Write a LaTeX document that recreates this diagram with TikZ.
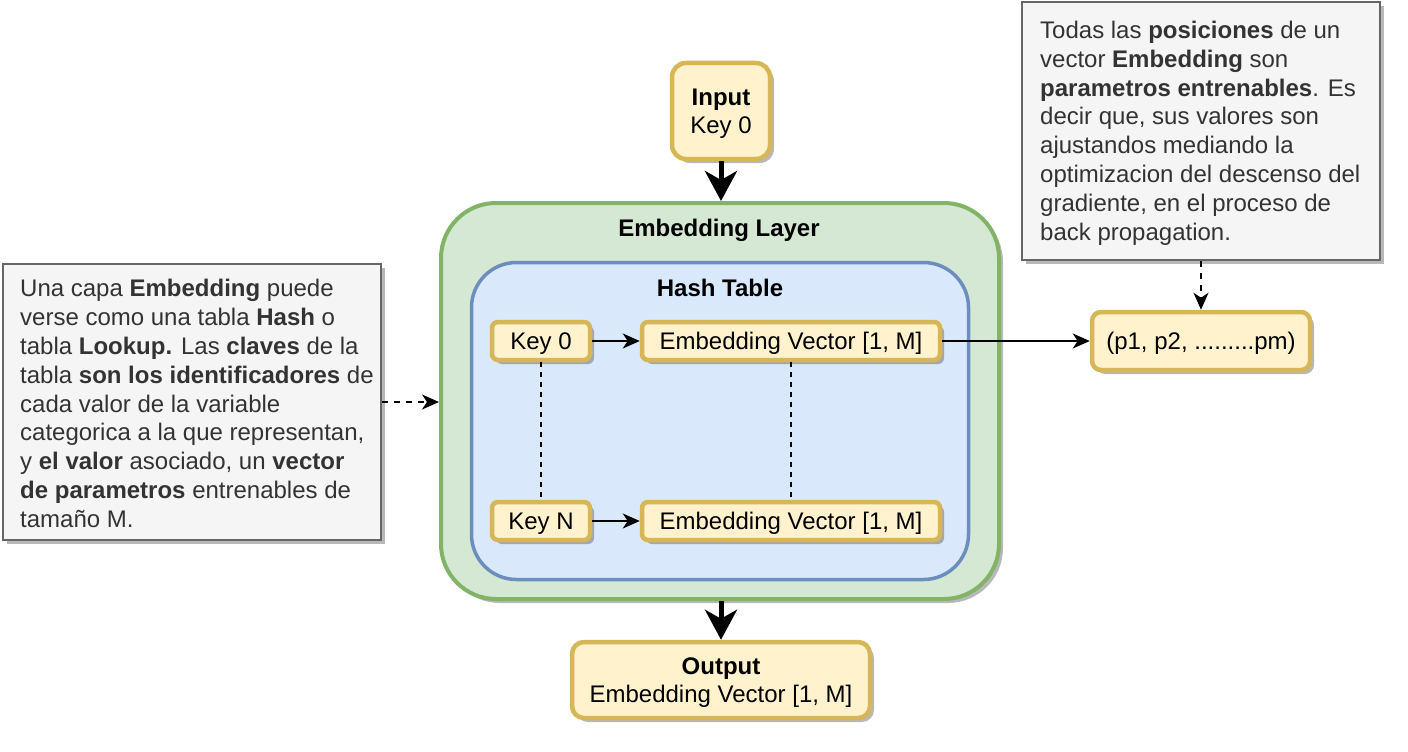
\documentclass[tikz,border=0pt]{standalone}
\usepackage{fontspec}
\setmainfont{Liberation Sans}
\usetikzlibrary{arrows.meta,shadows}
\definecolor{yfill}{HTML}{FFF2CC}
\definecolor{ystroke}{HTML}{D6B656}
\definecolor{gfill}{HTML}{D5E8D4}
\definecolor{gstroke}{HTML}{82B366}
\definecolor{bfill}{HTML}{DAE8FC}
\definecolor{bstroke}{HTML}{6C8EBF}
\definecolor{nfill}{HTML}{F5F5F5}
\definecolor{nstroke}{HTML}{666666}
\definecolor{ntext}{HTML}{333333}
\newcommand{\fsz}{\fontsize{24}{28.8}\selectfont}
\newcommand{\tstrut}{\rule{0pt}{21.9pt}}
\tikzset{
  shade/.style={drop shadow={shadow xshift=4pt,shadow yshift=-4pt,fill=black,opacity=0.28}},
  box/.style={draw, inner sep=0pt, align=center, font=\fsz},
  ybox/.style={box, fill=yfill, draw=ystroke, line width=4.5pt, shade},
  oneline/.style={text height=21.9pt},
  notebox/.style={box, fill=nfill, draw=nstroke, line width=2pt, shade},
  notetext/.style={inner sep=0pt, align=left, font=\fsz, text=ntext, anchor=west},
  bigarrow/.style={line width=5pt, -{Stealth[length=30pt,width=32pt,inset=9pt]}},
  thinarrow/.style={line width=2pt, -{Stealth[length=17pt,width=15pt,inset=5pt]}},
  dasharrow/.style={line width=2pt, dash pattern=on 6pt off 6pt, -{Stealth[length=17pt,width=15pt,inset=5pt]}},
  dashline/.style={line width=1.5pt, dash pattern=on 5pt off 5pt},
}
\begin{document}
\begin{tikzpicture}[x=1pt,y=-1pt]
\useasboundingbox (0,0) rectangle (1408,752);

% containers
\node[box, fill=gfill, draw=gstroke, line width=4pt, rounded corners=55pt, shade,
      minimum width=558pt, minimum height=396pt] (el) at (720,401) {};
\node[box, draw=none, font=\fsz\bfseries] (elt) at (719,230) {Embedding Layer};
\node[box, fill=bfill, draw=bstroke, line width=3.5pt, rounded corners=45pt,
      minimum width=497pt, minimum height=317pt] (ht) at (720,421) {};
\node[box, draw=none, font=\fsz\bfseries] (htt) at (720,288) {Hash Table};

% yellow nodes
\node[ybox, rounded corners=14pt, minimum width=98pt, minimum height=96pt] (input) at (721,111) {\tstrut\textbf{Input}\\Key 0};
\node[ybox, oneline, rounded corners=6pt, minimum width=98pt, minimum height=38pt] (key0) at (541,341) {Key 0};
\node[ybox, oneline, rounded corners=6pt, minimum width=298pt, minimum height=38pt] (ev1) at (791,341) {Embedding Vector [1, M]};
\node[ybox, oneline, rounded corners=6pt, minimum width=98pt, minimum height=38pt] (keyn) at (541,521) {Key N};
\node[ybox, oneline, rounded corners=6pt, minimum width=298pt, minimum height=38pt] (ev2) at (791,521) {Embedding Vector [1, M]};
\node[ybox, oneline, rounded corners=9pt, minimum width=218pt, minimum height=58pt] (pn) at (1201,341) {(p1, p2, .........pm)};
\node[ybox, rounded corners=12pt, minimum width=298pt, minimum height=76pt] (output) at (721,680) {\tstrut\textbf{Output}\\Embedding Vector [1, M]};

% notes
\node[notebox, minimum width=358pt, minimum height=258pt] (rnote) at (1201,131) {};
\node[notetext] (rtext) at (1040,133) {Todas las \textbf{posiciones} de un\\
vector \textbf{Embedding} son\\
\textbf{parametros entrenables}. Es\\
decir que, sus valores son\\
ajustandos mediando la\\
optimizacion del descenso del\\
gradiente, en el proceso de\\
back propagation.};

\node[notebox, minimum width=378pt, minimum height=276pt] (lnote) at (192,402) {};
\node[notetext] (ltext) at (20,403.5) {Una capa \textbf{Embedding} puede\\
verse como una tabla \textbf{Hash} o\\
tabla \textbf{Lookup.} Las \textbf{claves} de la\\
tabla \textbf{son los identificadores} de\\
cada valor de la variable\\
categorica a la que representan,\\
y \textbf{el valor} asociado, un \textbf{vector}\\
\textbf{de parametros} entrenables de\\
tamaño M.};

% connectors
\draw[bigarrow] (input.south) -- (input.south |- el.north);
\draw[bigarrow] (el.south -| output.north) -- (output.north);
\draw[thinarrow] (key0.east) -- (ev1.west);
\draw[thinarrow] (keyn.east) -- (ev2.west);
\draw[thinarrow] (ev1.east) -- (pn.west);
\draw[dashline] (key0.south) -- (keyn.north);
\draw[dashline] (ev1.south) -- (ev2.north);
\draw[dasharrow] (rnote.south) -- (pn.north);
\draw[dasharrow] (lnote.east) -- (lnote.east -| el.west);
\end{tikzpicture}
\end{document}
